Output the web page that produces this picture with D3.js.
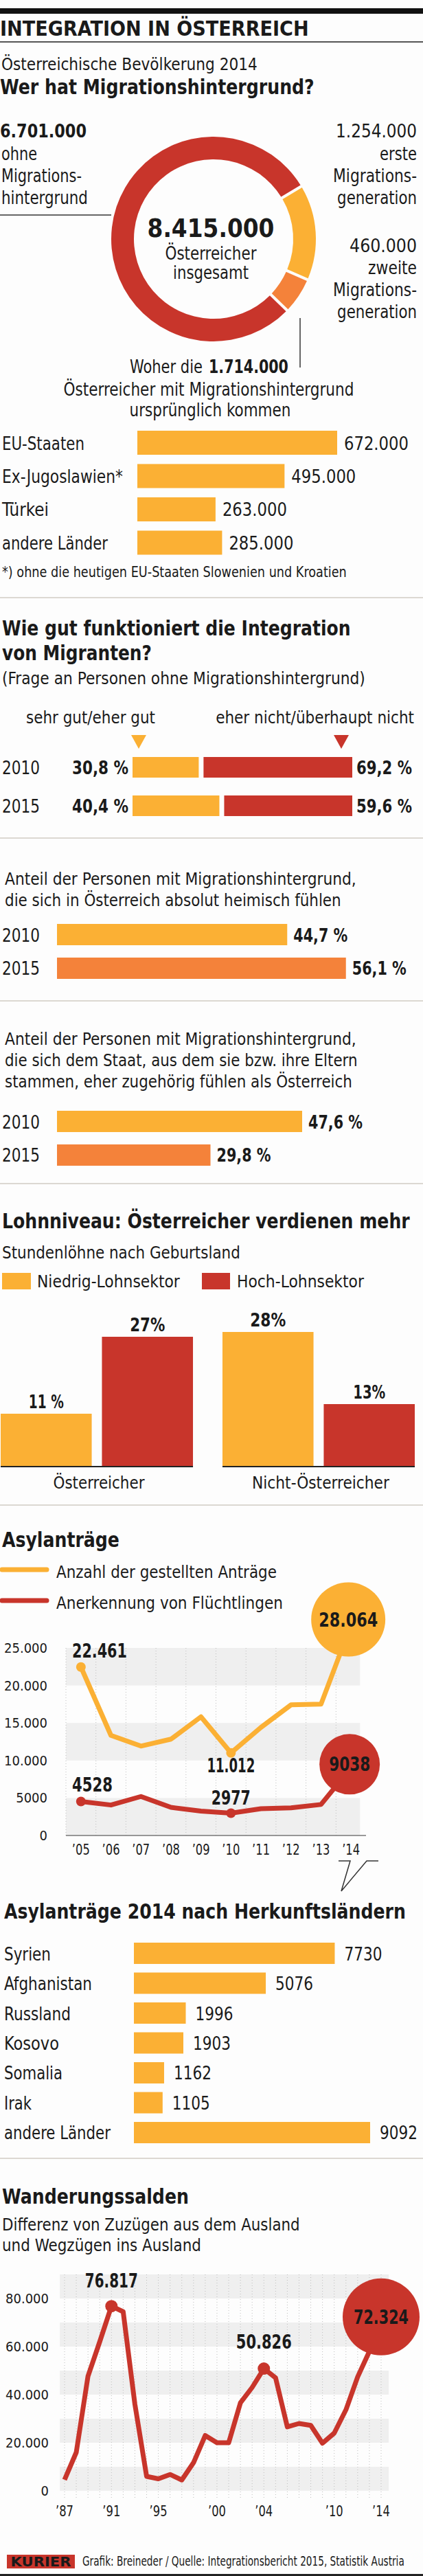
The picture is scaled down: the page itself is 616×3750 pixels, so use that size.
<!DOCTYPE html>
<html><head><meta charset="utf-8">
<script src="https://cdn.jsdelivr.net/npm/d3@7"></script>
<style>
html,body{margin:0;padding:0;background:#fdfdfd;}
svg{display:block;}
text{font-family:'Liberation Sans Narrow','DejaVu Sans Condensed','Roboto Condensed',sans-serif;fill:#1a1a1a;}
</style></head><body><svg id="c" width="616" height="3750"></svg>
<script>
// ---------- DATA ----------
const donutLabels = [["ohne","Migrations-","hintergrund"],["erste","Migrations-","generation"],["zweite","Migrations-","generation"]];
const donutValues = [6701000, 1254000, 460000];
const originCategories = ["EU-Staaten","Ex-Jugoslawien*","Türkei","andere Länder"];
const originValues = [672000, 495000, 263000, 285000];
const surveyYears = ["2010","2015"];
const integrationGood = [30.8, 40.4];
const integrationBad = [69.2, 59.6];
const heimischValues = [44.7, 56.1];
const zugehoerigValues = [47.6, 29.8];
const wageGroups = ["Österreicher","Nicht-Österreicher"];
const wageSectors = ["Niedrig-Lohnsektor","Hoch-Lohnsektor"];
const wageLow = [11, 28];
const wageHigh = [27, 13];
const wageLowLabels = ["11 %","28%"];
const wageHighLabels = ["27%","13%"];
const asylumYears = [2005,2006,2007,2008,2009,2010,2011,2012,2013,2014];
const asylumApplications = [22461,13349,11921,12841,15821,11012,14416,17413,17503,28064];
const asylumRecognitions = [4528,4063,5197,3753,3247,2977,3572,3680,4133,9038];
const asylumTicks = [0,5000,10000,15000,20000,25000];
const countryNames = ["Syrien","Afghanistan","Russland","Kosovo","Somalia","Irak","andere Länder"];
const countryValues = [7730,5076,1996,1903,1162,1105,9092];
const migrationYears = [1987,1988,1989,1990,1991,1992,1993,1994,1995,1996,1997,1998,1999,2000,2001,2002,2003,2004,2005,2006,2007,2008,2009,2010,2011,2012,2013,2014];
const migrationBalance = [4600,16000,47700,62000,76817,74500,36000,6000,5000,6800,4500,11700,23000,20000,20000,36600,43000,50826,47000,26600,28000,27200,19800,24000,33700,47400,58000,72324];
const migrationTicks = [0,20000,40000,60000,80000];
const migrationTickYears = [1987,1991,1995,2000,2004,2010,2014];

// ---------- HELPERS ----------
const RED="#c8352b", YEL="#fbb034", ORA="#f4823a", BAND="#efefef";
const de = d3.formatLocale({decimal:",", thousands:".", grouping:[3], currency:["","€"]});
const fmtK = de.format(",d");
const fmtNum = v => v >= 10000 ? fmtK(v) : d3.format("d")(v);
const fmtPct = v => de.format(".1f")(v) + " %";
const yr = d => "\u2019" + String(d).slice(2);

const svg = d3.select("#c");
// text helper: o.w = target width -> condensed horizontally around the anchor point
function t(g, x, y, s, size, o = {}) {
  const el = g.append("text").attr("font-size", size).text(s);
  if (o.family) el.attr("font-family", o.family);
  if (o.bold) el.attr("font-weight", "bold");
  if (o.anchor) el.attr("text-anchor", o.anchor);
  if (o.fill) el.attr("fill", o.fill);
  if (o.w) {
    const nat = el.node().getComputedTextLength();
    const sx = nat > 0 ? o.w / nat : 1;
    el.attr("x", 0).attr("y", 0).attr("transform", `translate(${x},${y}) scale(${sx.toFixed(4)},1)`);
  } else {
    el.attr("x", x).attr("y", y);
  }
  return el;
}
function sep(y){ svg.append("rect").attr("x",0).attr("y",y).attr("width",616).attr("height",2).attr("fill","#dcd8d2"); }

// ---------- HEADER ----------
svg.append("rect").attr("x",0).attr("y",12).attr("width",616).attr("height",8).attr("fill","#111");
t(svg, 0, 52, "INTEGRATION IN ÖSTERREICH", 31, {bold:true, w:450});
svg.append("rect").attr("x",0).attr("y",60).attr("width",616).attr("height",2).attr("fill","#555");

// ---------- DONUT ----------
t(svg, 2, 102, "Österreichische Bevölkerung 2014", 24, {w:373});
t(svg, 0, 137, "Wer hat Migrationshintergrund?", 30, {bold:true, w:458});

const cx = 311, cy = 348;
const donutColors = [RED, YEL, ORA];
const a0 = 59 * Math.PI / 180;
const pie = d3.pie().sort(null).startAngle(a0).endAngle(a0 + 2*Math.PI).padAngle(0.022).value(i => donutValues[i]);
const arc = d3.arc().innerRadius(116).outerRadius(149);
svg.append("g").attr("transform", `translate(${cx},${cy})`)
  .selectAll("path").data(pie([1,2,0])).join("path")
  .attr("d", arc).attr("fill", d => donutColors[d.data]);

const leftW = [52, 117, 126], right1W = [54, 122, 116], right2W = [71, 122, 116];
t(svg, 0, 200, fmtK(donutValues[0]), 26, {bold:true, w:126});
donutLabels[0].forEach((s,i) => t(svg, 2, 233 + i*32, s, 26, {w:leftW[i]}));
svg.append("line").attr("x1",0).attr("x2",162).attr("y1",313).attr("y2",313).attr("stroke","#333").attr("stroke-width",1.5);
t(svg, 607, 200, fmtK(donutValues[1]), 26, {anchor:"end", w:118});
donutLabels[1].forEach((s,i) => t(svg, 607, 233 + i*32, s, 26, {anchor:"end", w:right1W[i]}));
t(svg, 607, 367, fmtK(donutValues[2]), 26, {anchor:"end", w:98});
donutLabels[2].forEach((s,i) => t(svg, 607, 399 + i*32, s, 26, {anchor:"end", w:right2W[i]}));
t(svg, 307, 345, fmtK(d3.sum(donutValues)), 37, {bold:true, anchor:"middle", w:185});
t(svg, 307, 378, "Österreicher", 26, {anchor:"middle", w:133});
t(svg, 307, 406, "insgesamt", 26, {anchor:"middle", w:110});
svg.append("line").attr("x1",437).attr("x2",437).attr("y1",463).attr("y2",535).attr("stroke","#333").attr("stroke-width",1.5);

t(svg, 189, 543, "Woher die", 26, {w:106});
t(svg, 304, 543, fmtK(donutValues[1] + donutValues[2]), 26, {bold:true, w:116});
t(svg, 304, 576, "Österreicher mit Migrationshintergrund", 26, {anchor:"middle", w:423});
t(svg, 306, 606, "ursprünglich kommen", 26, {anchor:"middle", w:235});

// ---------- ORIGIN BARS ----------
const originW = [120, 176, 68, 154];
const xo = d3.scaleLinear().domain([0, d3.max(originValues)]).range([200, 491]);
const yo = d3.scaleBand().domain(originCategories).range([627, 807.5]).paddingInner(0.278);
const gO = svg.append("g");
gO.selectAll("rect").data(originCategories).join("rect")
  .attr("x", xo(0)).attr("y", d => yo(d)).attr("height", yo.bandwidth())
  .attr("width", (d,i) => xo(originValues[i]) - xo(0)).attr("fill", YEL);
originCategories.forEach((c,i) => {
  t(gO, 3, yo(c) + yo.bandwidth()/2 + 10, c, 27, {w:originW[i]});
  t(gO, xo(originValues[i]) + 10, yo(c) + yo.bandwidth()/2 + 10, fmtK(originValues[i]), 27, {w:94});
});
t(svg, 3, 840, "*) ohne die heutigen EU-Staaten Slowenien und Kroatien", 21, {w:502});
sep(869);

// ---------- INTEGRATION SURVEY ----------
t(svg, 3, 925, "Wie gut funktioniert die Integration", 30, {bold:true, w:508});
t(svg, 3, 961, "von Migranten?", 30, {bold:true, w:218});
t(svg, 3, 996, "(Frage an Personen ohne Migrationshintergrund)", 24, {w:529});
t(svg, 38, 1053, "sehr gut/eher gut", 24, {w:188});
t(svg, 603, 1053, "eher nicht/überhaupt nicht", 24, {anchor:"end", w:289});

const xi = d3.scaleLinear().domain([0, 100]).range([193, 506]);
const gap = 7;
const yi = d3.scaleBand().domain(surveyYears).range([1102, 1188]).paddingInner(0.464);
const tri = (x, c) => svg.append("path").attr("d", `M${x-11},1070L${x+11},1070L${x},1090Z`).attr("fill", c);
tri(xi(0) + 9, YEL);
tri(xi(100) + gap - 16, RED);
const gI = svg.append("g");
surveyYears.forEach((y,i) => {
  const yy = yi(y), h = yi.bandwidth();
  gI.append("rect").attr("x", xi(0)).attr("y", yy).attr("height", h).attr("width", xi(integrationGood[i]) - xi(0)).attr("fill", YEL);
  gI.append("rect").attr("x", xi(integrationGood[i]) + gap).attr("y", yy).attr("height", h)
    .attr("width", xi(integrationGood[i] + integrationBad[i]) - xi(integrationGood[i])).attr("fill", RED);
  t(gI, 3, yy + h/2 + 10, y, 27, {w:55});
  t(gI, xi(0) - 6, yy + h/2 + 10, fmtPct(integrationGood[i]), 26, {bold:true, anchor:"end", w:82});
  t(gI, xi(100) + gap + 6, yy + h/2 + 10, fmtPct(integrationBad[i]), 26, {bold:true, w:81});
});
sep(1219);

// ---------- SIMPLE % BAR BLOCKS ----------
function pctBlock(lines, widths, lineY0, values, bandTop) {
  const g = svg.append("g");
  lines.forEach((s,i) => t(g, 7, lineY0 + i*31, s, 24, {w:widths[i]}));
  const x = d3.scaleLinear().domain([0, 60]).range([83, 533]);
  const y = d3.scaleBand().domain(surveyYears).range([bandTop, bandTop + 80]).paddingInner(0.367);
  surveyYears.forEach((yrs,i) => {
    g.append("rect").attr("x", x(0)).attr("y", y(yrs)).attr("height", y.bandwidth())
      .attr("width", x(values[i]) - x(0)).attr("fill", i === 0 ? YEL : ORA);
    t(g, 3, y(yrs) + y.bandwidth()/2 + 10, yrs, 27, {w:55});
    t(g, x(values[i]) + 9, y(yrs) + y.bandwidth()/2 + 10, fmtPct(values[i]), 26, {bold:true, w:79});
  });
}
pctBlock(["Anteil der Personen mit Migrationshintergrund,","die sich in Österreich absolut heimisch fühlen"], [512, 490], 1288, heimischValues, 1345);
sep(1456);
pctBlock(["Anteil der Personen mit Migrationshintergrund,","die sich dem Staat, aus dem sie bzw. ihre Eltern","stammen, eher zugehörig fühlen als Österreich"], [512, 514, 506], 1521, zugehoerigValues, 1617);
sep(1722);

// ---------- WAGES ----------
t(svg, 3, 1788, "Lohnniveau: Österreicher verdienen mehr", 30, {bold:true, w:594});
t(svg, 3, 1832, "Stundenlöhne nach Geburtsland", 24, {w:347});
svg.append("rect").attr("x",3).attr("y",1853).attr("width",42).attr("height",24).attr("fill",YEL);
t(svg, 54, 1874, wageSectors[0], 24, {w:208});
svg.append("rect").attr("x",294).attr("y",1853).attr("width",41).attr("height",24).attr("fill",RED);
t(svg, 345, 1874, wageSectors[1], 24, {w:185});

const groupW = [133, 200], lowW = [51, 52], highW = [51, 47];
const xg = d3.scaleBand().domain(wageGroups).range([1, 604]).paddingInner(0.133);
const xs = d3.scaleBand().domain(wageSectors).range([0, xg.bandwidth()]).paddingInner(0.101);
const yw = d3.scaleLinear().domain([0, 30]).range([2135, 1925]);
const gW = svg.append("g");
wageGroups.forEach((grp,i) => {
  const vals = [wageLow[i], wageHigh[i]], labs = [wageLowLabels[i], wageHighLabels[i]], lw = [lowW[i], highW[i]];
  wageSectors.forEach((sec,j) => {
    const x = xg(grp) + xs(sec);
    gW.append("rect").attr("x", x).attr("y", yw(vals[j])).attr("width", xs.bandwidth())
      .attr("height", yw(0) - yw(vals[j])).attr("fill", j === 0 ? YEL : RED);
    t(gW, x + xs.bandwidth()/2, yw(vals[j]) - 8, labs[j], 27, {bold:true, anchor:"middle", w:lw[j]});
  });
  gW.append("line").attr("x1", xg(grp)).attr("x2", xg(grp) + xg.bandwidth()).attr("y1", yw(0)).attr("y2", yw(0)).attr("stroke","#222").attr("stroke-width",2);
  t(gW, xg(grp) + xg.bandwidth()/2 + 3, 2167, grp, 24, {anchor:"middle", w:groupW[i]});
});
sep(2190);

// ---------- ASYLUM LINES ----------
t(svg, 3, 2252, "Asylanträge", 30, {bold:true, w:171});
svg.append("line").attr("x1",3).attr("x2",68).attr("y1",2285).attr("y2",2285).attr("stroke",YEL).attr("stroke-width",7).attr("stroke-linecap","round");
t(svg, 82, 2297, "Anzahl der gestellten Anträge", 24, {w:321});
svg.append("line").attr("x1",3).attr("x2",68).attr("y1",2330).attr("y2",2330).attr("stroke",RED).attr("stroke-width",7).attr("stroke-linecap","round");
t(svg, 82, 2342, "Anerkennung von Flüchtlingen", 24, {w:330});

const xa = d3.scaleLinear().domain([2004.5, 2014.5]).range([96, 533]);
const ya = d3.scaleLinear().domain([0, 25000]).range([2672, 2399]);
const gA = svg.append("g");
[0, 10000, 20000].forEach(v => gA.append("rect").attr("x", xa(2004.5)).attr("width", xa(2014.3) - xa(2004.5))
  .attr("y", ya(v + 5000)).attr("height", ya(v) - ya(v + 5000)).attr("fill", BAND));
d3.range(2004.5, 2014, 1).forEach(v => gA.append("line").attr("x1", xa(v)).attr("x2", xa(v)).attr("y1", ya(25000)).attr("y2", ya(0))
  .attr("stroke","#bdbdbd").attr("stroke-width",1).attr("stroke-dasharray","1,3"));
gA.append("line").attr("x1", xa(2004.5)).attr("x2", xa(2014.5)).attr("y1", ya(0)).attr("y2", ya(0)).attr("stroke","#777").attr("stroke-width",1.5);
asylumTicks.forEach(v => t(gA, 69, ya(v) + 7, fmtNum(v), 20, {anchor:"end"}));
asylumYears.forEach(v => t(gA, xa(v), 2700, yr(v), 21, {anchor:"middle", w:26}));

const lineA = d3.line().x((d,i) => xa(asylumYears[i])).y(d => ya(d));
gA.append("path").attr("d", lineA(asylumApplications)).attr("fill","none").attr("stroke",YEL).attr("stroke-width",7).attr("stroke-linejoin","round");
gA.append("path").attr("d", lineA(asylumRecognitions)).attr("fill","none").attr("stroke",RED).attr("stroke-width",7).attr("stroke-linejoin","round");
[0,5].forEach(i => {
  gA.append("circle").attr("cx", xa(asylumYears[i])).attr("cy", ya(asylumApplications[i])).attr("r",7).attr("fill",YEL);
  gA.append("circle").attr("cx", xa(asylumYears[i])).attr("cy", ya(asylumRecognitions[i])).attr("r",7).attr("fill",RED);
});
const last = asylumYears.length - 1;
gA.append("circle").attr("cx", xa(asylumYears[last]) - 4).attr("cy", ya(asylumApplications[last]) - 8).attr("r",54).attr("fill",YEL);
t(gA, xa(asylumYears[last]) - 4, ya(asylumApplications[last]) + 2, fmtNum(asylumApplications[last]), 28, {bold:true, anchor:"middle", w:86});
gA.append("circle").attr("cx", xa(asylumYears[last]) - 2).attr("cy", ya(asylumRecognitions[last]) - 5).attr("r",44).attr("fill",RED);
t(gA, xa(asylumYears[last]) - 2, ya(asylumRecognitions[last]) + 5, fmtNum(asylumRecognitions[last]), 28, {bold:true, anchor:"middle", fill:"#fff", w:60});
t(gA, 105, 2413, fmtNum(asylumApplications[0]), 28, {bold:true, w:80});
t(gA, xa(asylumYears[5]), 2580, fmtNum(asylumApplications[5]), 28, {bold:true, anchor:"middle", w:70});
t(gA, 105, 2608, fmtNum(asylumRecognitions[0]), 28, {bold:true, w:59});
t(gA, xa(asylumYears[5]), 2627, fmtNum(asylumRecognitions[5]), 28, {bold:true, anchor:"middle", w:57});
svg.append("path").attr("d","M493,2709L510,2709L497,2753L534,2709L551,2709").attr("fill","none").attr("stroke","#333").attr("stroke-width",1.5);

// ---------- COUNTRIES ----------
t(svg, 6, 2793, "Asylanträge 2014 nach Herkunftsländern", 30, {bold:true, w:585});
const countryW = [68, 128, 97, 80, 85, 40, 155];
const xc = d3.scaleLinear().domain([0, d3.max(countryValues)]).range([195, 539]);
const yc = d3.scaleBand().domain(countryNames).range([2828, 3120]).paddingInner(0.287);
const gC = svg.append("g");
gC.selectAll("rect").data(countryNames).join("rect")
  .attr("x", xc(0)).attr("y", d => yc(d)).attr("height", yc.bandwidth())
  .attr("width", (d,i) => xc(countryValues[i]) - xc(0)).attr("fill", YEL);
countryNames.forEach((c,i) => {
  t(gC, 6, yc(c) + yc.bandwidth()/2 + 10, c, 27, {w:countryW[i]});
  t(gC, xc(countryValues[i]) + 14, yc(c) + yc.bandwidth()/2 + 10, fmtNum(countryValues[i]), 27, {w:55});
});
sep(3141);

// ---------- MIGRATION BALANCE ----------
t(svg, 3, 3208, "Wanderungssalden", 30, {bold:true, w:272});
t(svg, 3, 3247, "Differenz von Zuzügen aus dem Ausland", 25, {w:434});
t(svg, 3, 3277, "und Wegzügen ins Ausland", 25, {w:290});
const xm = d3.scaleLinear().domain([1987, 2014]).range([94, 555]);
const ym = d3.scaleLinear().domain([0, 90000]).range([3626, 3311]);
const gM = svg.append("g");
[0, 20000, 40000, 60000, 80000].forEach(v => gM.append("rect").attr("x", xm(1986.6)).attr("width", xm(2014.65) - xm(1986.6))
  .attr("y", ym(v + 10000)).attr("height", ym(v) - ym(v + 10000)).attr("fill", BAND));
migrationYears.forEach(v => gM.append("line").attr("x1", xm(v)).attr("x2", xm(v)).attr("y1", ym(90000)).attr("y2", ym(0) + 12)
  .attr("stroke","#bdbdbd").attr("stroke-width",1).attr("stroke-dasharray","1,3"));
migrationTicks.forEach(v => t(gM, 71, ym(v) + 7, fmtNum(v), 20, {anchor:"end"}));
migrationTickYears.forEach(v => t(gM, xm(v), 3663, yr(v), 21, {anchor:"middle", w:26}));
const lineM = d3.line().x((d,i) => xm(migrationYears[i])).y(d => ym(d));
gM.append("path").attr("d", lineM(migrationBalance)).attr("fill","none").attr("stroke",RED).attr("stroke-width",7).attr("stroke-linejoin","round");
[1991, 2004].forEach(y => {
  const i = migrationYears.indexOf(y);
  gM.append("circle").attr("cx", xm(y)).attr("cy", ym(migrationBalance[i])).attr("r",9).attr("fill",RED);
});
const i91 = migrationYears.indexOf(1991), i04 = migrationYears.indexOf(2004), iL = migrationYears.length - 1;
t(gM, xm(1991), 3330, fmtNum(migrationBalance[i91]), 28, {bold:true, anchor:"middle", w:77});
t(gM, xm(2004), 3419, fmtNum(migrationBalance[i04]), 28, {bold:true, anchor:"middle", w:81});
gM.append("circle").attr("cx", xm(2014)).attr("cy", ym(migrationBalance[iL])).attr("r",56).attr("fill",RED);
t(gM, xm(2014), ym(migrationBalance[iL]) + 10, fmtNum(migrationBalance[iL]), 29, {bold:true, anchor:"middle", fill:"#fff", w:80});

// ---------- FOOTER ----------
svg.append("rect").attr("x",10).attr("y",3719).attr("width",99).attr("height",20).attr("fill",RED);
t(svg, 59.5, 3736, "KURIER", 19, {bold:true, anchor:"middle", fill:"#fff", w:88, family:"'Liberation Serif','DejaVu Serif',serif"});
t(svg, 120, 3735, "Grafik: Breineder / Quelle: Integrationsbericht 2015, Statistik Austria", 19, {w:469});
svg.append("rect").attr("x",0).attr("y",3747).attr("width",616).attr("height",3).attr("fill","#222");
</script></body></html>
